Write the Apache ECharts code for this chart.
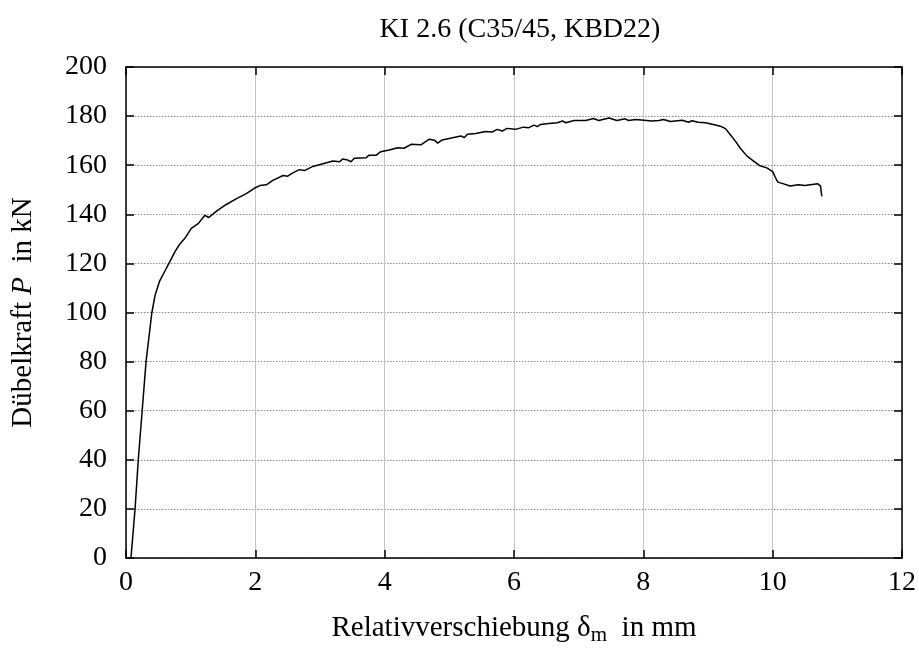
<!DOCTYPE html>
<html>
<head>
<meta charset="utf-8">
<script src="https://cdn.jsdelivr.net/npm/echarts@6/dist/echarts.min.js"></script>
<style>
  html, body { margin: 0; padding: 0; background: #fff; }
  #chart { width: 919px; height: 651px; }
</style>
</head>
<body>
<div id="chart"></div>
<script>
// Relativverschiebung (mm) und Dübelkraft (kN)
const slip = [
  0.077, 0.14, 0.19, 0.25, 0.31, 0.40, 0.45, 0.52, 0.60, 0.68, 0.76, 0.83, 0.91, 1.01,
  1.12, 1.22, 1.28, 1.40, 1.55, 1.71, 1.86, 1.99, 2.07, 2.17, 2.27, 2.43, 2.50, 2.58,
  2.68, 2.76, 2.89, 2.99, 3.20, 3.30, 3.35, 3.43, 3.48, 3.53, 3.71, 3.76, 3.87, 3.94,
  4.07, 4.20, 4.23, 4.30, 4.41, 4.56, 4.69, 4.77, 4.82, 4.89, 5.05, 5.18, 5.23, 5.28,
  5.41, 5.56, 5.66, 5.74, 5.82, 5.89, 6.02, 6.15, 6.23, 6.31, 6.36, 6.41, 6.54, 6.67,
  6.75, 6.80, 6.93, 7.11, 7.23, 7.31, 7.47, 7.59, 7.72, 7.77, 7.88, 8.01, 8.13, 8.24,
  8.31, 8.42, 8.60, 8.70, 8.75, 8.85, 8.96, 9.08, 9.19, 9.27, 9.34, 9.42, 9.50, 9.60,
  9.70, 9.80, 9.91, 10.00, 10.04, 10.08, 10.17, 10.27, 10.40, 10.50, 10.52, 10.58,
  10.70, 10.74, 10.76
];
const force = [
  0, 20, 40, 60, 80, 100, 107, 112.8, 116.8, 120.8, 124.9, 127.8, 130.2, 134.3,
  136.3, 139.6, 138.7, 141.3, 144, 146.4, 148.4, 150.7, 151.7, 152, 153.8, 155.8, 155.5, 156.9,
  158.2, 157.8, 159.5, 160.2, 161.7, 161.4, 162.5, 162.1, 161.4, 162.8, 163, 164.1, 164.1, 165.5,
  166.2, 167.1, 167.6, 166.9, 168.5, 168.3, 170.6, 170.2, 169, 170.3, 171.2, 171.9, 171.2, 172.6,
  172.9, 173.7, 173.5, 174.6, 173.9, 175, 174.6, 175.5, 175.3, 176.3, 175.7, 176.6, 177, 177.3,
  178, 177.3, 178.2, 178.2, 179, 178.2, 179.2, 178.2, 178.9, 178.2, 178.6, 178.3, 178, 178.2,
  178.6, 177.8, 178.3, 177.5, 178.1, 177.5, 177.3, 176.6, 175.9, 174.9, 172.6, 169.9, 166.9, 163.8,
  161.8, 159.8, 158.9, 157.4, 155.1, 153.1, 152.4, 151.5, 152, 151.7, 151.1, 152,
  152.4, 151.5, 147.3
];

const titleText = 'KI 2.6 (C35/45, KBD22)';
const xMin = 0, xMax = 12, xStep = 2;
const yMin = 0, yMax = 200, yStep = 20;

const font = 'Liberation Serif, Times New Roman, serif';
const pts = slip.map((x, i) => [x, force[i]]);

const tickIn = { show: true, inside: true, length: 8, lineStyle: { color: '#000', width: 1.5 } };
const frame = { show: true, onZero: false, lineStyle: { color: '#000', width: 1.5 } };

const chart = echarts.init(document.getElementById('chart'), null, { renderer: 'canvas' });
chart.setOption({
  animation: false,
  backgroundColor: '#fff',
  textStyle: { fontFamily: font },
  title: {
    text: titleText,
    left: 515, top: 11, textAlign: 'center',
    textStyle: { fontFamily: font, fontWeight: 'normal', fontSize: 28, color: '#000' }
  },
  grid: { left: 126, right: 15, top: 67, bottom: 88, containLabel: false },
  xAxis: [{
    type: 'value', min: xMin, max: xMax, interval: xStep,
    axisLine: frame, axisTick: tickIn,
    axisLabel: { color: '#000', fontSize: 28, fontFamily: font, margin: 11 },
    splitLine: { show: true, lineStyle: { color: '#c4c4c4', width: 1 } },
    name: 'Relativverschiebung δ{sub|m}  in mm',
    nameLocation: 'middle', nameGap: 52,
    nameTextStyle: {
      color: '#000', fontSize: 29, fontFamily: font,
      rich: { sub: { fontSize: 21, fontFamily: font, color: '#000', padding: [15, 0, 0, 0] } }
    }
  }, {
    type: 'value', position: 'top', min: xMin, max: xMax, interval: xStep,
    axisLine: frame, axisTick: tickIn, axisLabel: { show: false }, splitLine: { show: false }
  }],
  yAxis: [{
    type: 'value', min: yMin, max: yMax, interval: yStep,
    axisLine: frame, axisTick: tickIn,
    axisLabel: { color: '#000', fontSize: 28, fontFamily: font, margin: 19 },
    splitLine: { show: true, lineStyle: { color: '#8a8a8a', width: 1, type: [1.5, 1.5] } },
    name: 'Dübelkraft {i|P}  in kN',
    nameLocation: 'middle', nameGap: 88, nameRotate: 90,
    nameTextStyle: {
      color: '#000', fontSize: 29, fontFamily: font,
      rich: { i: { fontStyle: 'italic', fontSize: 29, fontFamily: font, color: '#000' } }
    }
  }, {
    type: 'value', position: 'right', min: yMin, max: yMax, interval: yStep,
    axisLine: frame, axisTick: tickIn, axisLabel: { show: false }, splitLine: { show: false }
  }],
  series: [{
    type: 'line',
    data: pts,
    showSymbol: false,
    smooth: false,
    lineStyle: { color: '#000', width: 1.5 },
    z: 5
  }]
});
</script>
</body>
</html>
